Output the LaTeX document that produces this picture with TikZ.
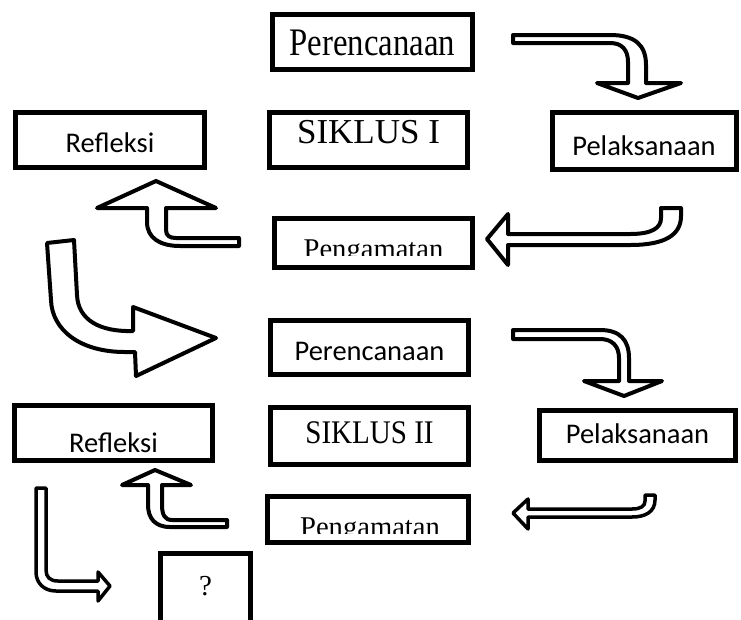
\documentclass[tikz,border=0pt]{standalone}
\usepackage{fontspec}
\setmainfont{Liberation Serif}
\newfontfamily\sansf{Carlito}
\begin{document}
\begin{tikzpicture}[x=1pt,y=-1pt,
  box/.style={draw, line width=5pt, inner sep=0pt, fill=white, text depth=0pt},
  sans/.style={font=\sansf\fontsize{28.5}{30}\selectfont},
  blk/.style={draw, line width=4pt, line join=round, fill=white},
  thinblk/.style={draw, line width=3.5pt, line join=round, fill=white}]
\useasboundingbox (0,0) rectangle (741,619);
\clip (0,0) rectangle (741,619);
% boxes
\node[box, font=\fontsize{39}{40}\selectfont, text height=26pt, minimum width=200pt, minimum height=55pt] (p1) at (372.5,42) {\scalebox{0.84}[1]{Perencanaan}};
\node[box, sans, text height=24pt, minimum width=189pt, minimum height=55pt] (r1) at (110,140) {Refleksi};
\node[box, font=\fontsize{35}{36}\selectfont, text height=6pt, minimum width=198pt, minimum height=55pt] (s1) at (368.5,140) {SIKLUS I};
\node[box, sans, text height=28pt, minimum width=184pt, minimum height=57pt] (l1) at (644,141) {Pelaksanaan};
\node[box, minimum width=198pt, minimum height=49pt] (g1) at (373.5,243) {};
\node[box, sans, text height=25pt, minimum width=198pt, minimum height=54pt] (p2) at (369.5,347.5) {Perencanaan};
\node[box, font=\fontsize{33}{34}\selectfont, text height=14.6pt, minimum width=198pt, minimum height=57pt] (s2) at (369.5,436) {\scalebox{0.88}[1]{SIKLUS II}};
\node[box, sans, text height=15pt, minimum width=196pt, minimum height=50pt] (l2) at (637.5,435.5) {Pelaksanaan};
\node[box, sans, text height=38pt, minimum width=198pt, minimum height=55pt] (r2) at (113.5,433) {Refleksi};
\node[box, minimum width=201pt, minimum height=46pt] (g2) at (368,519.5) {};
\node[box, font=\fontsize{29}{30}\selectfont, text height=6pt, minimum width=90pt, minimum height=78pt] (q) at (205.5,592) {?};
% clipped Pengamatan texts
\begin{scope}
\clip (274,218) rectangle (473,255);
\node[font=\fontsize{28.6}{30}\selectfont, anchor=base, inner sep=0pt] at (373.5,258) {Pengamatan};
\end{scope}
\begin{scope}
\clip (267,496) rectangle (469,533);
\node[font=\fontsize{28.6}{30}\selectfont, anchor=base, inner sep=0pt] at (370,536) {Pengamatan};
\end{scope}
% arrow 1: Perencanaan -> Pelaksanaan (cycle I)
\draw[blk] (513,35) -- (610,35) .. controls (635,35) and (646,45) .. (646,65)
  -- (646,83) -- (681,83) -- (638,98) -- (597,83) -- (628,83) -- (628,62)
  .. controls (628,50) and (622,43) .. (610,43) -- (513,43) -- cycle;
% arrow 2: Pelaksanaan -> Pengamatan
\draw[blk] (661,208) -- (681,208) -- (681,216) .. controls (681,235) and (665,245) .. (630,245)
  -- (508,245) -- (508,265) -- (487,239) -- (508,214) -- (508,234) -- (630,234)
  .. controls (652,234) and (661,228) .. (661,218) -- cycle;
% arrow 3: Pengamatan -> Refleksi
\draw[blk] (239,238) -- (239,246) -- (180,246) .. controls (160,246) and (147,238) .. (147,222)
  -- (147,208) -- (97,208) -- (156,181) -- (216,208) -- (166,208) -- (166,230)
  .. controls (166,236) and (170,238) .. (176,238) -- cycle;
% arrow 4: Refleksi -> Perencanaan (cycle II)
\draw[blk] (47,243) -- (74,240) -- (77,295) .. controls (78,320) and (100,332) .. (133,331)
  -- (133,307) -- (216,338) -- (136,376) -- (135,352) -- (125,352)
  .. controls (80,352) and (52,330) .. (51,300) -- cycle;
% arrow 5
\draw[blk] (513,330) -- (600,330) .. controls (620,330) and (629,340) .. (629,358)
  -- (629,381) -- (662,381) -- (624,396) -- (584,381) -- (619,381) -- (619,358)
  .. controls (619,346) and (612,339) .. (600,339) -- (513,339) -- cycle;
% arrow 6
\draw[thinblk] (645,495) -- (655,495) -- (655,500) .. controls (655,512) and (645,517) .. (632,517)
  -- (528,517) -- (528,529) -- (513,513) -- (528,499) -- (528,509) -- (632,509)
  .. controls (641,509) and (645,506) .. (645,501) -- cycle;
% arrow 7
\draw[blk] (227,520) -- (227,527) -- (170,527) .. controls (155,527) and (148,518) .. (148,505)
  -- (148,485) -- (122,485) -- (155,470) -- (191,485) -- (162,485) -- (162,505)
  .. controls (162,515) and (165,520) .. (172,520) -- cycle;
% arrow 8
\draw[thinblk] (36,488) -- (46,488) -- (46,570) .. controls (46,577) and (50,581) .. (58,581)
  -- (98,581) -- (98,572) -- (110,586) -- (98,601) -- (98,591) -- (56,591)
  .. controls (44,591) and (36,583) .. (36,572) -- cycle;
\end{tikzpicture}
\end{document}
